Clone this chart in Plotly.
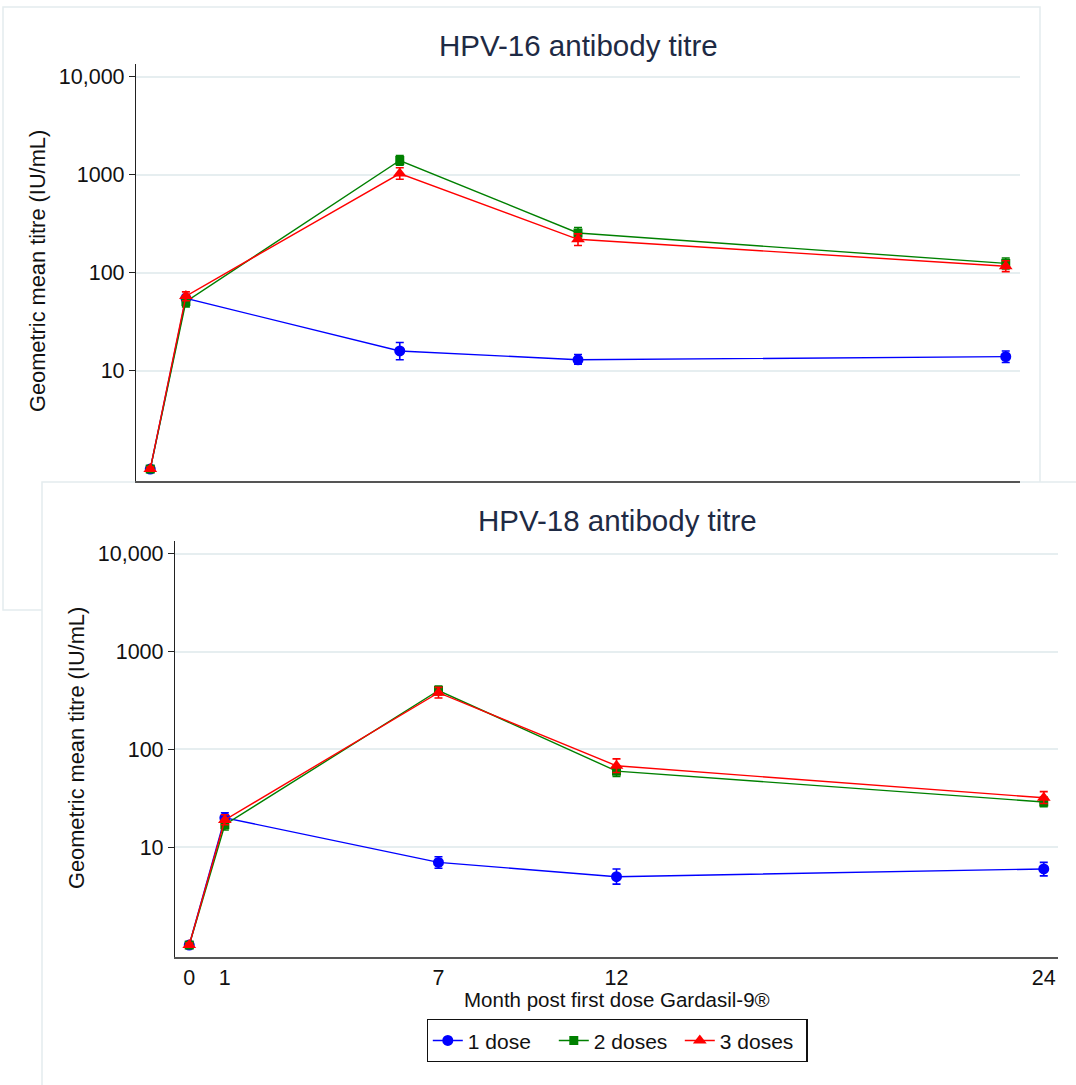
import plotly.graph_objects as go

# ---------------- data ----------------
months = [0, 1, 7, 12, 24]
tick_months = [0, 1, 7, 12, 24]
tick_month_labels = ["0", "1", "7", "12", "24"]
y_tickvals = [10, 100, 1000, 10000]
y_ticktext = ["10", "100", "1000", "10,000"]
series_names = ["1 dose", "2 doses", "3 doses"]

# HPV-16 geometric mean titres with 95% CI
hpv16_1dose = [1.0, 55, 16, 13, 14]
hpv16_1dose_lo = [0.95, 50, 13, 11.7, 12.2]
hpv16_1dose_hi = [1.05, 60, 19.5, 14.7, 16]
hpv16_2dose = [1.0, 51, 1400, 255, 125]
hpv16_2dose_lo = [0.95, 45, 1250, 225, 110]
hpv16_2dose_hi = [1.05, 58, 1570, 290, 142]
hpv16_3dose = [1.0, 58, 1030, 220, 117]
hpv16_3dose_lo = [0.95, 52, 900, 190, 103]
hpv16_3dose_hi = [1.05, 64, 1180, 250, 133]

# HPV-18 geometric mean titres with 95% CI
hpv18_1dose = [1.0, 20, 7, 5, 6]
hpv18_1dose_lo = [0.95, 18, 6.1, 4.2, 5.1]
hpv18_1dose_hi = [1.05, 22.5, 8, 6, 7]
hpv18_2dose = [1.0, 17, 400, 60, 29]
hpv18_2dose_lo = [0.95, 15, 360, 53, 26]
hpv18_2dose_hi = [1.05, 19, 445, 67, 32.5]
hpv18_3dose = [1.0, 19, 380, 68, 32]
hpv18_3dose_lo = [0.95, 17, 335, 58, 28]
hpv18_3dose_hi = [1.05, 21.5, 430, 80, 37]

# ---------------- styling ----------------
W, H = 1076, 1085
colors = ["#0000ff", "#008000", "#ff0000"]
symbols = ["circle", "square", "triangle-up"]
msizes = [11, 9, 12]
FONT = "Liberation Sans, Arial, sans-serif"
TITLE_COLOR = "#1e2a44"
GRID = "#e6eef0"


def px_x(p):
    return p / W


def px_y(p):
    return 1 - p / H


fig = go.Figure()


def add_panel(vals, xa, ya, showlegend):
    for i, (v, lo, hi) in enumerate(vals):
        fig.add_trace(go.Scatter(
            x=months, y=v, mode="lines+markers",
            name=series_names[i], showlegend=showlegend,
            line=dict(color=colors[i], width=1.4),
            marker=dict(color=colors[i], symbol=symbols[i], size=msizes[i]),
            error_y=dict(type="data", symmetric=False,
                         array=[h - m for h, m in zip(hi, v)],
                         arrayminus=[m - l for m, l in zip(v, lo)],
                         color=colors[i], thickness=1.6, width=4),
            xaxis=xa, yaxis=ya,
        ))


add_panel([(hpv16_1dose, hpv16_1dose_lo, hpv16_1dose_hi),
           (hpv16_2dose, hpv16_2dose_lo, hpv16_2dose_hi),
           (hpv16_3dose, hpv16_3dose_lo, hpv16_3dose_hi)], "x", "y", False)
add_panel([(hpv18_1dose, hpv18_1dose_lo, hpv18_1dose_hi),
           (hpv18_2dose, hpv18_2dose_lo, hpv18_2dose_hi),
           (hpv18_3dose, hpv18_3dose_lo, hpv18_3dose_hi)], "x2", "y2", True)

yaxis_common = dict(
    type="log", range=[-0.122, 4.13], tickvals=y_tickvals, ticktext=y_ticktext,
    showgrid=True, gridcolor=GRID, gridwidth=2,
    showline=True, linecolor="#222222", linewidth=1.3,
    ticks="outside", ticklen=6, tickcolor="#222222", tickwidth=1.2,
    tickfont=dict(family=FONT, size=21.5, color="#111111"),
    zeroline=False,
)
xaxis_common = dict(
    range=[-0.4, 24.4], showgrid=False, zeroline=False,
    showline=True, linecolor="#555555", linewidth=2, ticks="",
)

fig.update_layout(
    width=W, height=H,
    margin=dict(l=0, r=0, t=0, b=0),
    paper_bgcolor="white", plot_bgcolor="rgba(0,0,0,0)",
    xaxis=dict(domain=[px_x(136), px_x(1020)], anchor="y",
               showticklabels=False, **xaxis_common),
    yaxis=dict(domain=[px_y(481), px_y(64)], anchor="x", **yaxis_common),
    xaxis2=dict(domain=[px_x(175), px_x(1058)], anchor="y2",
                tickvals=tick_months, ticktext=tick_month_labels,
                tickfont=dict(family=FONT, size=21.5, color="#111111"),
                **xaxis_common),
    yaxis2=dict(domain=[px_y(957), px_y(541)], anchor="x2", **yaxis_common),
    showlegend=True,
    legend=dict(orientation="h", x=px_x(617), xanchor="center",
                y=px_y(1019), yanchor="top",
                bordercolor="#111111", borderwidth=1.3, bgcolor="white",
                font=dict(family=FONT, size=21, color="#111111"),
                entrywidth=81, entrywidthmode="pixels", tracegroupgap=0),
    shapes=[
        dict(type="rect", xref="paper", yref="paper",
             x0=px_x(3), x1=px_x(1040), y0=px_y(610), y1=px_y(7),
             line=dict(color="#e4ecee", width=1.5), fillcolor="white",
             layer="below"),
        dict(type="rect", xref="paper", yref="paper",
             x0=px_x(42), x1=px_x(1090), y0=px_y(1100), y1=px_y(482),
             line=dict(color="#e4ecee", width=1.5), fillcolor="white",
             layer="below"),
    ],
    annotations=[
        dict(text="HPV-16 antibody titre", xref="paper", yref="paper",
             x=px_x(578), y=px_y(45), xanchor="center", yanchor="middle",
             showarrow=False, font=dict(family=FONT, size=29.5, color=TITLE_COLOR)),
        dict(text="HPV-18 antibody titre", xref="paper", yref="paper",
             x=px_x(617), y=px_y(521), xanchor="center", yanchor="middle",
             showarrow=False, font=dict(family=FONT, size=29.5, color=TITLE_COLOR)),
        dict(text="Geometric mean titre (IU/mL)", xref="paper", yref="paper",
             x=px_x(37), y=px_y(271), xanchor="center", yanchor="middle",
             textangle=-90, showarrow=False,
             font=dict(family=FONT, size=21.8, color="#111111")),
        dict(text="Geometric mean titre (IU/mL)", xref="paper", yref="paper",
             x=px_x(76), y=px_y(748), xanchor="center", yanchor="middle",
             textangle=-90, showarrow=False,
             font=dict(family=FONT, size=21.8, color="#111111")),
        dict(text="Month post first dose Gardasil-9®", xref="paper", yref="paper",
             x=px_x(617), y=px_y(999), xanchor="center", yanchor="middle",
             showarrow=False, font=dict(family=FONT, size=20.5, color="#111111")),
    ],
)

fig.write_html("out.html")
